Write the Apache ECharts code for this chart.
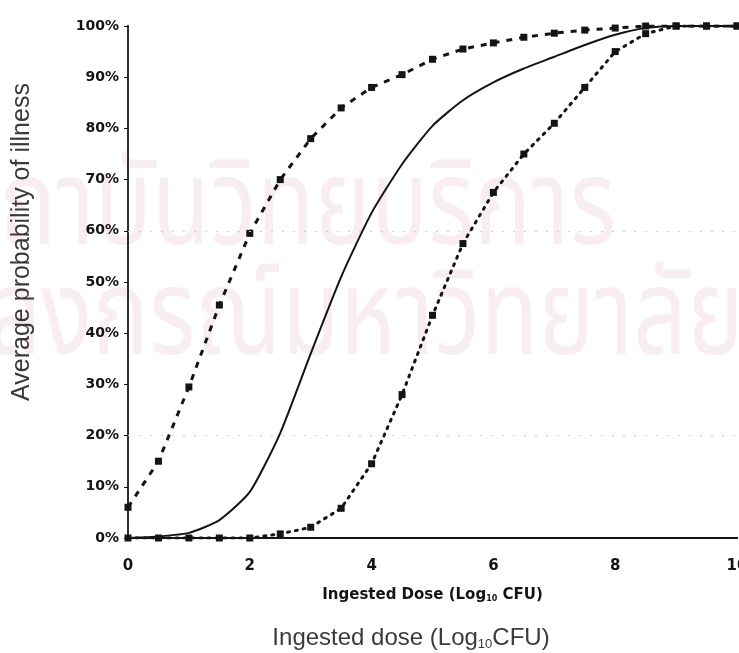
<!DOCTYPE html>
<html>
<head>
<meta charset="utf-8">
<script src="https://cdn.jsdelivr.net/npm/echarts@6/dist/echarts.min.js"></script>
<style>
  html, body { margin: 0; padding: 0; background: #ffffff; }
  #chart { width: 739px; height: 653px; }
</style>
</head>
<body>
<div id="chart"></div>
<script>
// Ingested dose (log10 CFU) at which each curve is evaluated
const doses = [0, 0.5, 1, 1.5, 2, 2.5, 3, 3.5, 4, 4.5, 5, 5.5, 6, 6.5, 7, 7.5, 8, 8.5, 9, 9.5, 10];

// Average probability of illness (%) for the three dose-response curves
const highRisk   = [6, 15, 29.5, 45.5, 59.5, 70, 78, 84, 88, 90.5, 93.5, 95.5, 96.7, 97.8, 98.6, 99.2, 99.6, 100, 100, 100, 100];
const average    = [0, 0.3, 1, 3.5, 9, 20.5, 36, 51, 63.5, 73, 80.5, 85.5, 89, 91.7, 94, 96.3, 98.3, 99.6, 100, 100, 100];
const lowRisk    = [0, 0, 0, 0, 0, 0.8, 2.1, 5.8, 14.5, 28, 43.5, 57.5, 67.5, 75, 81, 88, 95, 98.5, 100, 100, 100];

const yTicks = [0, 100, 10];   // min, max, step (%)
const xTicks = [0, 10, 2];     // min, max, step (log10 CFU)

const pairs = ys => doses.map((d, i) => [d, ys[i]]);

const INK = '#141414';
const tickFont = '"DejaVu Sans", sans-serif';
const titleFont = '"Liberation Sans", Arial, sans-serif';
const markFont = '120px "Noto Sans Thai", "Noto Sans", sans-serif';

const chart = echarts.init(document.getElementById('chart'), null, { renderer: 'canvas' });

chart.setOption({
  animation: false,
  backgroundColor: '#ffffff',
  grid: { left: 128, right: 2, top: 26, bottom: 115, containLabel: false, outerBoundsMode: 'none' },
  graphic: [
    { type: 'text', z: 0, x: -55, y: 160, scaleX: 0.79,
      style: { text: 'สถาบันวิทยบริการ', font: markFont, fill: '#f8eef2', verticalAlign: 'top' } },
    { type: 'text', z: 0, x: -165, y: 270, scaleX: 0.79,
      style: { text: 'จุฬาลงกรณ์มหาวิทยาลัย', font: markFont, fill: '#f8eef2', verticalAlign: 'top' } },
    { type: 'text', z: 5, x: 22, y: 242, rotation: Math.PI / 2,
      style: { text: 'Average probability of illness', font: '25px ' + titleFont, fill: '#3a3a3a',
               align: 'center', verticalAlign: 'middle' } },
    { type: 'text', z: 5, x: 411, y: 638,
      style: { text: 'Ingested dose (Log{s|10}CFU)', font: '24px ' + titleFont, fill: '#3a3a3a',
               align: 'center', verticalAlign: 'middle',
               rich: { s: { font: '13px ' + titleFont, fill: '#3a3a3a', padding: [12, 0, 0, 0] } } } }
  ],
  xAxis: [
    {
      type: 'value', position: 'bottom',
      min: xTicks[0], max: xTicks[1], interval: xTicks[2],
      axisLine: { show: true, lineStyle: { color: INK, width: 2 } },
      axisTick: { show: false },
      splitLine: { show: false },
      axisLabel: { color: INK, fontFamily: tickFont, fontWeight: 'bold', fontSize: 15, margin: 21 },
      name: 'Ingested Dose (Log{s|10} CFU)',
      nameLocation: 'middle', nameGap: 50,
      nameTextStyle: { color: INK, fontFamily: tickFont, fontWeight: 'bold', fontSize: 15,
                       rich: { s: { fontFamily: tickFont, fontWeight: 'bold', fontSize: 8, padding: [7, 0, 0, 0], color: INK } } }
    },
    {
      type: 'value', position: 'top',
      min: xTicks[0], max: xTicks[1], interval: xTicks[2],
      axisLine: { show: true, lineStyle: { color: INK, width: 2 } },
      axisTick: { show: false }, axisLabel: { show: false }, splitLine: { show: false }
    }
  ],
  yAxis: [
    {
      type: 'value', position: 'left',
      min: yTicks[0], max: yTicks[1], interval: yTicks[2],
      axisLine: { show: true, lineStyle: { color: INK, width: 2 } },
      axisTick: { show: true, inside: false, length: 4, lineStyle: { color: INK, width: 1 } },
      splitLine: { show: false },
      axisLabel: { color: INK, fontFamily: tickFont, fontWeight: 'bold', fontSize: 14, margin: 9,
                   formatter: '{value}%' }
    },
    {
      type: 'value', position: 'right',
      min: yTicks[0], max: yTicks[1], interval: yTicks[2],
      axisLine: { show: true, lineStyle: { color: '#333', width: 2, type: [2, 2] } },
      axisTick: { show: false }, axisLabel: { show: false }, splitLine: { show: false }
    }
  ],
  series: [
    {
      name: 'Average', type: 'line', data: pairs(average),
      showSymbol: false, smooth: 0.2, z: 3,
      lineStyle: { color: INK, width: 2 },
      markLine: {
        silent: true, symbol: 'none', label: { show: false },
        lineStyle: { color: '#cfcfcf', width: 1, type: [2, 9] },
        data: [{ yAxis: 20 }, { yAxis: 60 }]
      }
    },
    {
      name: 'High', type: 'line', data: pairs(highRisk),
      symbol: 'rect', symbolSize: 7, showAllSymbol: true, z: 4,
      itemStyle: { color: INK },
      lineStyle: { color: INK, width: 3, type: [6, 7] }
    },
    {
      name: 'Low', type: 'line', data: pairs(lowRisk),
      symbol: 'rect', symbolSize: 7, showAllSymbol: true, z: 4,
      itemStyle: { color: INK },
      lineStyle: { color: INK, width: 3, type: [2, 6], cap: 'round' }
    }
  ]
});
</script>
</body>
</html>
